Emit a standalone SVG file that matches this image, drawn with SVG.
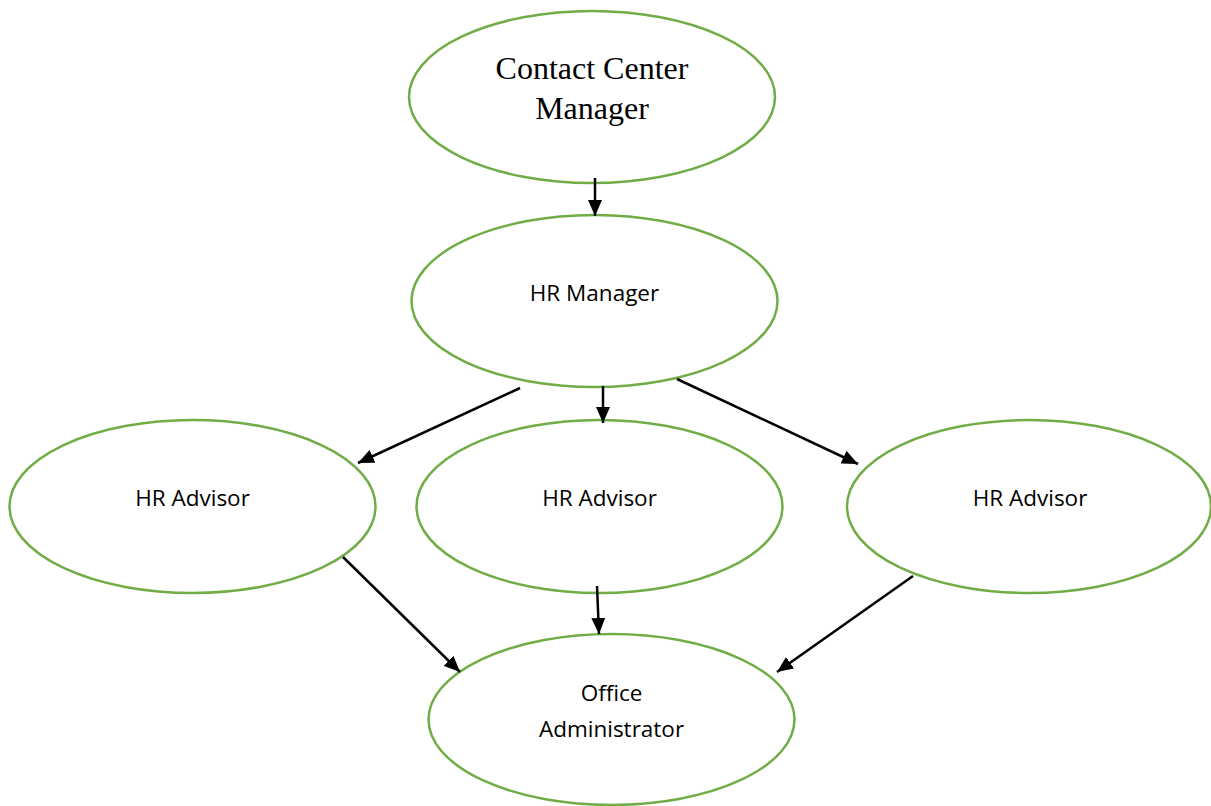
<svg xmlns="http://www.w3.org/2000/svg" width="1211" height="806" viewBox="0 0 1211 806">
<style>
.node ellipse{fill:#fff;stroke:#70ad47;stroke-width:2.5}
.t{font-family:"Open Sans","Liberation Sans",sans-serif;font-size:22.5px;fill:#000;text-anchor:middle}
.s{font-family:"Liberation Serif",serif;font-size:32px;fill:#000;text-anchor:middle}
.edges line{stroke:#000;stroke-width:2.5;marker-end:url(#ah)}
</style>
<defs>
<marker id="ah" viewBox="0 0 16 14" refX="16" refY="7" markerWidth="16" markerHeight="14" markerUnits="userSpaceOnUse" orient="auto">
<path d="M0,0 L16,7 L0,14 Z" fill="#000"/>
</marker>
</defs>
<rect width="1211" height="806" fill="#fff"/>
<g id="n-ccm" class="node"><ellipse cx="592" cy="97" rx="183" ry="86"/><text class="s" x="592" y="79">Contact Center</text><text class="s" x="592" y="119">Manager</text></g>
<g id="n-hrm" class="node"><ellipse cx="594.5" cy="301" rx="183" ry="86"/><text class="t" x="594.5" y="301">HR Manager</text></g>
<g id="n-hra1" class="node"><ellipse cx="192.5" cy="506.5" rx="183" ry="86.5"/><text class="t" x="192.5" y="506">HR Advisor</text></g>
<g id="n-hra2" class="node"><ellipse cx="599.5" cy="506.5" rx="183" ry="86.5"/><text class="t" x="599.5" y="506">HR Advisor</text></g>
<g id="n-hra3" class="node"><ellipse cx="1029" cy="506.5" rx="182" ry="86.5"/><text class="t" x="1030" y="506">HR Advisor</text></g>
<g id="n-oa" class="node"><ellipse cx="611.5" cy="719.5" rx="183" ry="85.5"/><text class="t" x="611.5" y="701">Office</text><text class="t" x="611.5" y="737">Administrator</text></g>
<g id="edges" class="edges">
<line x1="595" y1="178" x2="595" y2="216"/>
<line x1="520" y1="388" x2="358" y2="463"/>
<line x1="603" y1="386" x2="603" y2="423"/>
<line x1="677" y1="379" x2="858" y2="464"/>
<line x1="343" y1="557" x2="460" y2="672"/>
<line x1="597" y1="586" x2="599" y2="634"/>
<line x1="913" y1="576" x2="777" y2="672"/>
</g>
</svg>
